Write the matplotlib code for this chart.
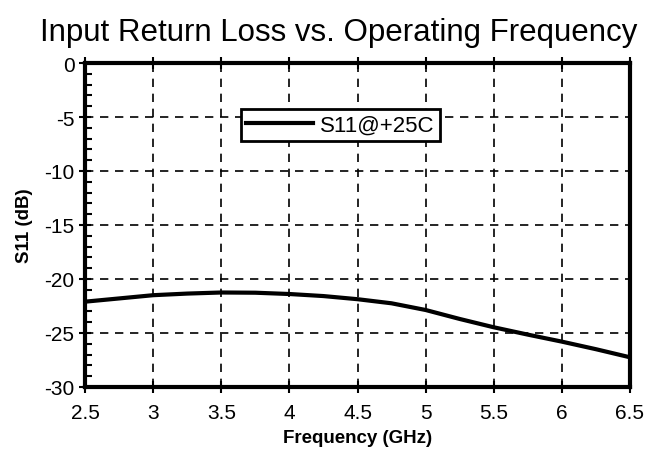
import numpy as np
import matplotlib.pyplot as plt
from matplotlib.ticker import MultipleLocator

plt.rcParams["font.family"] = ["Liberation Sans", "DejaVu Sans"]
plt.rcParams["axes.unicode_minus"] = False

# S11 every 0.25 GHz
freq = [2.5, 2.75, 3.0, 3.25, 3.5, 3.75, 4.0, 4.25, 4.5,
        4.75, 5.0, 5.25, 5.5, 5.75, 6.0, 6.25, 6.5]
s11 = [-22.1, -21.8, -21.5, -21.35, -21.25, -21.27, -21.39, -21.58, -21.87,
       -22.25, -22.87, -23.7, -24.47, -25.15, -25.8, -26.5, -27.25]
series_label = "S11@+25C"
xtick_vals = [2.5, 3, 3.5, 4, 4.5, 5, 5.5, 6, 6.5]
xtick_text = ["2.5", "3", "3.5", "4", "4.5", "5", "5.5", "6", "6.5"]

fig = plt.figure(figsize=(6.46, 4.52), dpi=100)
ax = fig.add_axes([85 / 646, 1 - 388 / 452, (630 - 85) / 646, (388 - 64) / 452])

ax.plot(freq, s11, color="black", linewidth=3, label=series_label, zorder=3,
        solid_joinstyle="round")

ax.set_xlim(2.5, 6.5)
ax.set_ylim(-30, 0)
ax.yaxis.set_major_locator(MultipleLocator(5))
ax.yaxis.set_minor_locator(MultipleLocator(1))
ax.set_xticks(xtick_vals)
ax.set_xticklabels(xtick_text)

ax.grid(True, which="major", linestyle=(0, (5, 4)), color="black", linewidth=1.2)
for s in ax.spines.values():
    s.set_linewidth(3)

ax.tick_params(axis="both", which="major", direction="inout", length=9, width=1.5,
               labelsize=15, colors="black")
ax.tick_params(axis="x", top=True, pad=7)
ax.tick_params(axis="y", pad=3)
ax.tick_params(axis="y", which="minor", direction="in", length=5, width=1.5)

ax.set_xlabel("Frequency (GHz)", fontsize=13.5, fontweight="bold", labelpad=5)
ax.set_ylabel("S11 (dB)", fontsize=13.5, fontweight="bold", labelpad=8)
fig.text(339 / 646, 1 - 33 / 452, "Input Return Loss vs. Operating Frequency",
         fontsize=22.5, ha="center", va="center")

leg = ax.legend(loc="upper center", bbox_to_anchor=(0.468, 0.858), fontsize=16,
                frameon=True, fancybox=False, framealpha=1, edgecolor="black",
                handlelength=3.0, borderpad=0.25, handletextpad=0.3,
                borderaxespad=0)
leg.get_frame().set_linewidth(2)

fig.savefig("out.png", dpi=100)
